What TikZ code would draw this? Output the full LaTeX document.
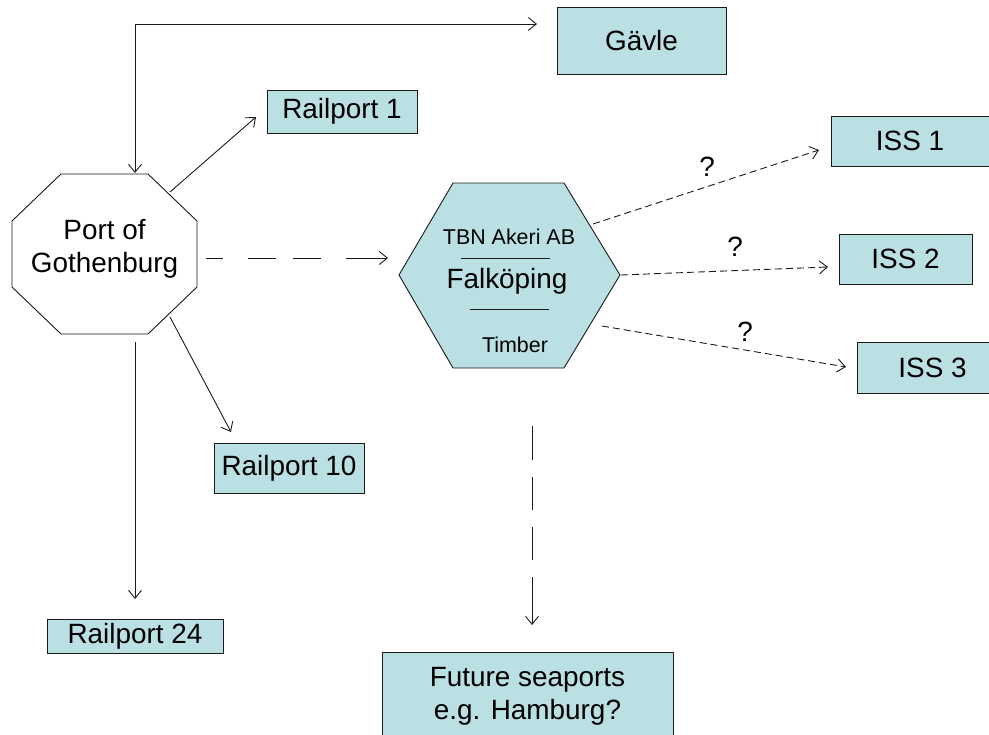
\documentclass[tikz,border=0pt]{standalone}
\usepackage{fontspec}
\setmainfont{Liberation Sans}
\usetikzlibrary{arrows.meta}
\definecolor{boxfill}{HTML}{BBE0E3}
\definecolor{ln}{HTML}{1A1A1A}
\begin{document}
\begin{tikzpicture}[x=1bp,y=-1bp,
  box/.style={draw=ln, fill=boxfill, line width=0.9bp, inner sep=0pt, font=\fontsize{28}{33}\selectfont, align=center},
  lbl/.style={inner sep=0pt, font=\fontsize{28}{33}\selectfont, align=center},
  smalltxt/.style={inner sep=0pt, font=\fontsize{21.5}{25}\selectfont},
  outline/.style={draw=ln, line width=0.9bp},
  conn/.style={draw=ln, line width=0.9bp, -{Straight Barb[length=8bp,width=13bp]}},
  conn2/.style={draw=ln, line width=0.9bp, {Straight Barb[length=8bp,width=13bp]}-{Straight Barb[length=8bp,width=13bp]}},
  hdash/.style={dash pattern=on 17bp off 25bp on 28bp off 17bp on 28bp off 25bp on 80bp off 1bp},
  vdash/.style={dash pattern=on 34bp off 17bp on 33bp off 17bp on 33bp off 17bp on 80bp off 1bp},
  shortdash/.style={dash pattern=on 7bp off 4bp}
]
\useasboundingbox (0,0) rectangle (989,735);

% octagon
\draw[outline, fill=white] (61,174) -- (148,174) -- (197,221) -- (197,287) -- (148,334) -- (61,334) -- (12,287) -- (12,221) -- cycle;
\node[lbl] (oct) at (104.5,249) {Port of\\Gothenburg};

% hexagon
\draw[outline, fill=boxfill] (453,183) -- (564,183) -- (620,275) -- (564,368) -- (453,368) -- (399,275) -- cycle;
\node[smalltxt] (tbn) at (509,237) {TBN Akeri AB};
\draw[outline] (461,258) -- (550,258);
\node[lbl] (falk) at (507,281) {Falköping};
\draw[outline] (470,309) -- (549,309);
\node[smalltxt] (timber) at (515,345) {Timber};

% boxes
\node[box, minimum width=169bp, minimum height=67bp] (gavle) at (641.5,40.5) {Gävle};
\node[box, minimum width=150bp, minimum height=43bp] (rp1) at (342,111.5) {Railport 1};
\node[box, minimum width=150bp, minimum height=50bp] (rp10) at (289,468) {Railport 10};
\node[box, minimum width=176bp, minimum height=34bp] (rp24) at (135,636) {Railport 24};
\node[box, minimum width=158bp, minimum height=50bp] (iss1) at (910,141) {ISS 1};
\node[box, minimum width=133bp, minimum height=50bp] (iss2) at (905.5,259) {ISS 2};
\node[box, minimum width=151bp, minimum height=51bp] (iss3) at (932.5,367.5) {ISS 3};
\node[box, minimum width=291bp, minimum height=89bp] (future) at (527.5,696.5) {Future seaports\\e.g. Hamburg?};

% connector end points
\coordinate (gvA) at (135,173);
\coordinate (gvB) at (537,24);
\coordinate (r1A) at (170,192);
\coordinate (r1B) at (256,117);
\coordinate (r10A) at (170,317);
\coordinate (r10B) at (231,432);
\coordinate (r24A) at (135,342);
\coordinate (r24B) at (135,599);
\coordinate (hxA) at (206,258);
\coordinate (hxB) at (388,258);
\coordinate (fA) at (532,426);
\coordinate (fB) at (532,625);
\coordinate (i1A) at (593,224);
\coordinate (i1B) at (819,150);
\coordinate (i2A) at (621,275);
\coordinate (i2B) at (828,267);
\coordinate (i3A) at (602,326);
\coordinate (i3B) at (846,367);

% connectors
\draw[conn2] (gvA) |- (gvB);
\draw[conn] (r1A) -- (r1B);
\draw[conn] (r10A) -- (r10B);
\draw[conn] (r24A) -- (r24B);
\draw[conn, hdash] (hxA) -- (hxB);
\draw[conn, vdash] (fA) -- (fB);
\draw[conn, shortdash] (i1A) -- (i1B);
\draw[conn, shortdash] (i2A) -- (i2B);
\draw[conn, shortdash] (i3A) -- (i3B);

% labels
\node[lbl] (q1) at (707,167) {?};
\node[lbl] (q2) at (735,247) {?};
\node[lbl] (q3) at (745,332) {?};
\end{tikzpicture}
\end{document}
